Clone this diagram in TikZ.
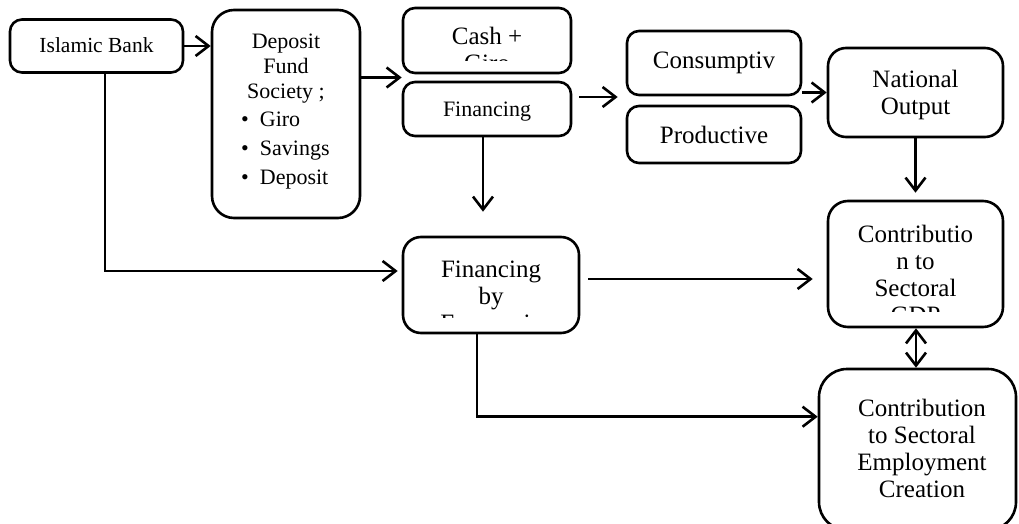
\documentclass[tikz,border=0pt]{standalone}
\usepackage{fontspec}
\setmainfont{Liberation Serif}
\usetikzlibrary{arrows.meta,calc}
\begin{document}
\begin{tikzpicture}[x=1pt,y=-1pt,
  box/.style={draw=black,line width=2.6pt,rounded corners=#1,inner sep=0pt,fill=none},
  box/.default=12pt,
  txt/.style={align=center,inner sep=0pt,anchor=base,font=\fontsize{25}{27}\selectfont},
  conn/.style={line width=2.6pt,-{Straight Barb[length=13pt,width=20pt,line width=2.6pt]}},
  dconn/.style={line width=2.6pt,{Straight Barb[length=13pt,width=20pt,line width=2.6pt]}-{Straight Barb[length=13pt,width=20pt,line width=2.6pt]}}]
\useasboundingbox (0,0) rectangle (1019,524);
% boxes
\node[box, minimum width=173pt, minimum height=53pt] (IB) at (96.5,46) {};
\node[box=22pt, minimum width=148pt, minimum height=208pt] (DF) at (286,114) {};
\node[box, minimum width=168pt, minimum height=65pt] (Cash) at (487,40.5) {};
\node[box, minimum width=168pt, minimum height=54pt] (Fin) at (487,109) {};
\node[box, minimum width=174pt, minimum height=64pt] (Cons) at (714,63) {};
\node[box, minimum width=174pt, minimum height=57pt] (Prod) at (714,134.5) {};
\node[box=18pt, minimum width=175pt, minimum height=89pt] (NO) at (915.5,92.5) {};
\node[box=18pt, minimum width=176pt, minimum height=96pt] (FinBy) at (491,285) {};
\node[box=20pt, minimum width=175pt, minimum height=126pt] (GDP) at (915.5,264) {};
\node[box=28pt, minimum width=197pt, minimum height=161pt] (Emp) at (917.5,449.5) {};
% texts (anchor=base is the baseline of the last line)
\node[txt, font=\fontsize{21.5}{24}\selectfont] (IBt) at (96.5,53) {Islamic Bank};
\node[txt, font=\fontsize{22}{25}\selectfont] (DFt) at (286,99) {Deposit\\Fund\\Society ;};
\node[txt, anchor=base west, align=left, font=\fontsize{22}{29}\selectfont] (DFl) at (241,184) {\textbullet\ \ Giro\\\textbullet\ \ Savings\\\textbullet\ \ Deposit};
\begin{scope}
  \clip (403,8) rectangle (571,61);
  \node[txt] (Casht) at (487,72) {Cash +\\Giro};
\end{scope}
\node[txt, font=\fontsize{22}{25}\selectfont] (Fint) at (487,117) {Financing};
\node[txt] (Const) at (714,69) {Consumptiv};
\node[txt] (Prodt) at (714,143) {Productive};
\node[txt] (NOt) at (915.5,114) {National\\Output};
\begin{scope}
  \clip (403,237) rectangle (579,317);
  \node[txt] (FinByt) at (491,331) {Financing\\by\\Economic};
\end{scope}
\begin{scope}
  \clip (828,201) rectangle (1003,311);
  \node[txt] (GDPt) at (915.5,323) {Contributio\\n to\\Sectoral\\GDP};
\end{scope}
\node[txt] (Empt) at (922,497) {Contribution\\to Sectoral\\Employment\\Creation};
% connector points
\coordinate (j1) at ($(Cash.south west)!0.5!(Fin.north west)$);
\coordinate (j2) at ($(Cons.west)+(-8,34)$);
\coordinate (j4) at ($(GDP.west)+(-14,15)$);
\coordinate (j5) at ($(Emp.north west)+(0,49)$);
\coordinate (j3) at ($(FinBy.west)+(-4,-14)$);
% connectors
\draw[conn] (IB.east) -- (IB.east -| DF.west);
\draw[conn] (DF.east |- j1) -- (j1);
\draw[conn] ([xshift=7pt]Fin.east |- j2) -- (j2);
\draw[conn] (Cons.east |- NO.west) -- (NO.west);
\draw[conn, shorten >=7pt] (NO.south) -- (GDP.north);
\draw[conn, shorten >=24pt] ([xshift=-4pt]Fin.south) -- ([xshift=-4pt]Fin.south |- FinBy.north);
\draw[conn] ([xshift=8.5pt]IB.south) |- (j3);
\draw[conn] ([xshift=8pt]FinBy.east |- j4) -- (j4);
\draw[conn] ([xshift=-14pt]FinBy.south) |- (j5);
\draw[dconn] ([xshift=0.5pt]GDP.south) -- ([xshift=0.5pt]GDP.south |- Emp.north);
\end{tikzpicture}
\end{document}
